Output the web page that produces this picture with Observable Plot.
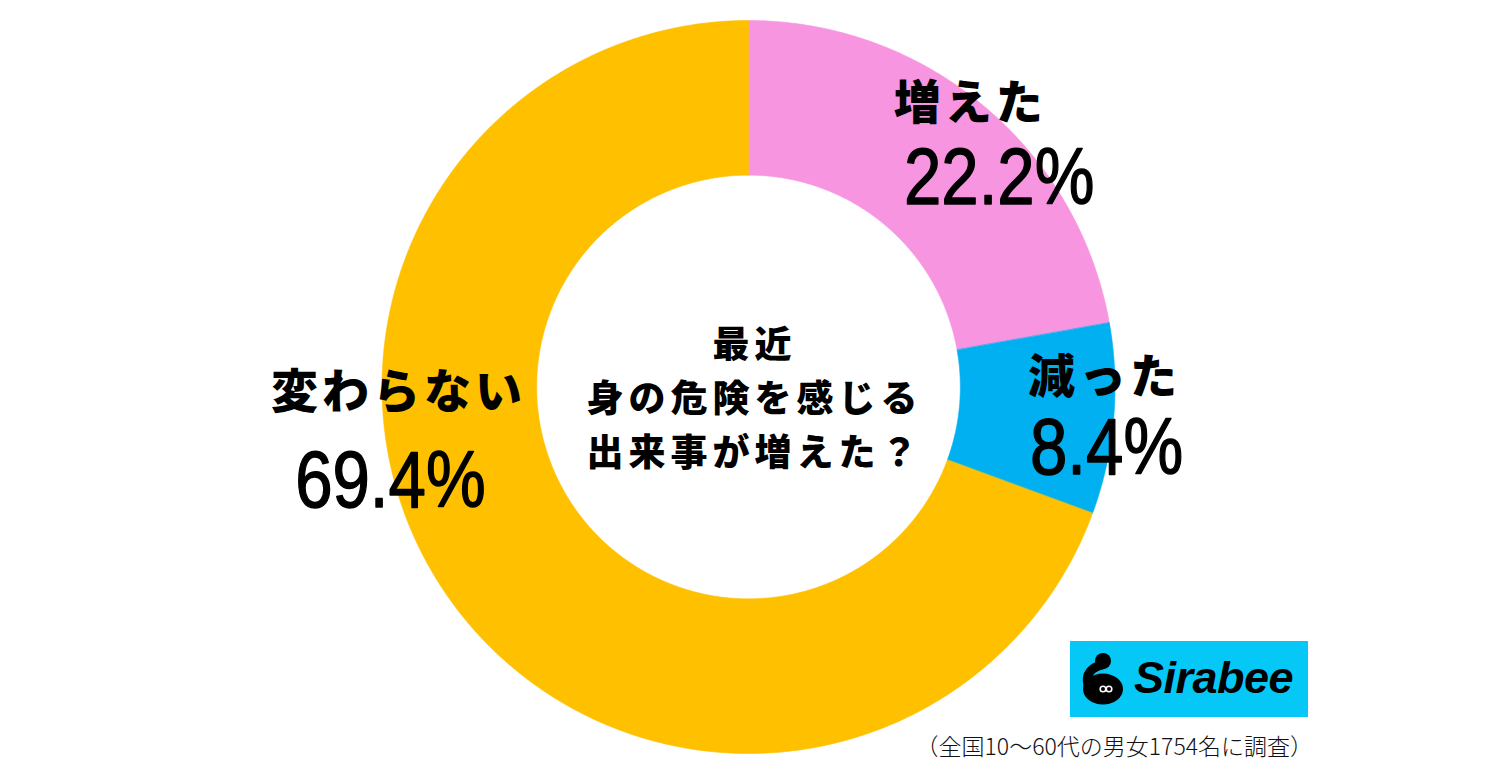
<!DOCTYPE html>
<html>
<head>
<meta charset="utf-8">
<script src="https://cdn.jsdelivr.net/npm/d3@7"></script>
<script src="https://cdn.jsdelivr.net/npm/@observablehq/plot@0.6"></script>
<style>
  html, body { margin: 0; padding: 0; background: #fff; }
  #wrap { position: relative; width: 1500px; height: 780px; overflow: hidden; }
  #caption { position: absolute; right: 187px; top: 728px; font-family: "Noto Sans CJK JP", sans-serif; font-weight: 300; font-size: 23px; color: #111; white-space: nowrap; }
  #logo { position: absolute; left: 1070px; top: 641px; width: 238px; height: 76px; background: #06C8F6; }
  #logo svg { position: absolute; left: 0; top: 0; }
  #logo .name { position: absolute; left: 64px; top: 14px; font-family: "Liberation Sans", Arial, sans-serif; font-weight: bold; font-style: italic; font-size: 45px; letter-spacing: -0.5px; color: #000; line-height: 1; }
</style>
</head>
<body>
<div id="wrap">
  <div id="chart"></div>
  <div id="logo">
    <svg width="70" height="76" viewBox="0 0 70 76">
      <ellipse cx="33" cy="48" rx="20" ry="15.5" fill="#000"/>
      <circle cx="33" cy="20" r="8" fill="#000"/>
      <path d="M 32 24 C 22 26, 15 33, 18 44" stroke="#000" stroke-width="9" fill="none" stroke-linecap="round"/>
      <circle cx="33" cy="48" r="2.8" fill="none" stroke="#fff" stroke-width="1.6"/>
      <circle cx="39" cy="48" r="2.8" fill="none" stroke="#fff" stroke-width="1.6"/>
    </svg>
    <div class="name">Sirabee</div>
  </div>
  <div id="caption"></div>
</div>
<script>
// ---- data ----
const categories = ["増えた", "減った", "変わらない"];
const values = [22.2, 8.4, 69.4];
const colors = ["#F895E1", "#00B0F0", "#FFC000"];
const centerLines = ["最近", "身の危険を感じる", "出来事が増えた？"];
const captionText = "（全国10～60代の男女1754名に調査）";

// ---- layout (styles / offsets, not data) ----
const innerRatio = 0.578;
const pxPerUnit = 366.5;
const labelOffsets = [ // pixel offsets from slice mid-ring point
  {ldx: 36, ldy: -61, pdx: 65, pdy: 13},
  {ldx: 68, ldy: -34, pdx: 70, pdy: 36},
  {ldx: -113, ldy: -160, pdx: -121, pdy: -71}
];

const total = d3.sum(values);
let acc = 0;
const slices = categories.map((c, i) => {
  const a0 = acc / total * 2 * Math.PI;
  acc += values[i];
  const a1 = acc / total * 2 * Math.PI;
  return {cat: c, value: values[i], a0, a1, mid: (a0 + a1) / 2, ...labelOffsets[i]};
});

// ring polygons built from slice angles
const ring = [];
for (const s of slices) {
  const n = Math.max(8, Math.ceil((s.a1 - s.a0) / 0.005));
  for (let k = 0; k <= n; k++) {
    const t = s.a0 + (s.a1 - s.a0) * k / n;
    ring.push({cat: s.cat, x: Math.sin(t), y: Math.cos(t)});
  }
  for (let k = n; k >= 0; k--) {
    const t = s.a0 + (s.a1 - s.a0) * k / n;
    ring.push({cat: s.cat, x: innerRatio * Math.sin(t), y: innerRatio * Math.cos(t)});
  }
}
const midR = (1 + innerRatio) / 2;
const mx = d => midR * Math.sin(d.mid);
const my = d => midR * Math.cos(d.mid);

const plot = Plot.plot({
  width: 1500,
  height: 780,
  marginLeft: 381.5,
  marginRight: 385.5,
  marginTop: 20,
  marginBottom: 27,
  x: {domain: [-1, 1], axis: null},
  y: {domain: [-1, 1], axis: null},
  color: {domain: categories, range: colors},
  style: {background: "#fff"},
  marks: [
    Plot.line(ring, {x: "x", y: "y", z: "cat", fill: "cat", stroke: "cat", strokeWidth: 0.6, curve: "linear-closed"}),
    Plot.text(slices, {
      x: d => mx(d) + d.ldx / pxPerUnit, y: d => my(d) - d.ldy / pxPerUnit, text: "cat",
      fontFamily: "Noto Sans CJK JP", fontWeight: 900, fontSize: 47, fill: "#000",
      textAnchor: "middle", lineAnchor: "middle"
    }),
    Plot.text(slices, {
      x: d => mx(d) + d.pdx / pxPerUnit, y: d => my(d) - d.pdy / pxPerUnit, text: d => `${d.value.toFixed(1)}%`,
      fontFamily: "Liberation Sans", fontSize: 80, fill: "#000",
      stroke: "#000", strokeWidth: 1.4,
      textAnchor: "middle", lineAnchor: "middle"
    }),
    Plot.text([{t: centerLines.join("\n")}], {
      x: () => 6 / pxPerUnit, y: () => -8 / pxPerUnit, text: "t",
      fontFamily: "Noto Sans CJK JP", fontWeight: 900, fontSize: 37, lineHeight: 1.46,
      fill: "#000", textAnchor: "middle", lineAnchor: "middle"
    })
  ]
});

const groups = plot.querySelectorAll('g[aria-label="text"]');
if (groups[0]) groups[0].style.letterSpacing = "4px";
if (groups[1]) {
  // condense the percentage glyphs horizontally (narrow digit style of the original)
  groups[1].querySelectorAll("text").forEach(el => {
    const tr = el.getAttribute("transform") || "";
    el.setAttribute("transform", tr + " scale(0.84,1)");
  });
}
if (groups[2]) groups[2].style.letterSpacing = "5px";
document.getElementById("chart").appendChild(plot);
document.getElementById("caption").textContent = captionText;
</script>
</body>
</html>
